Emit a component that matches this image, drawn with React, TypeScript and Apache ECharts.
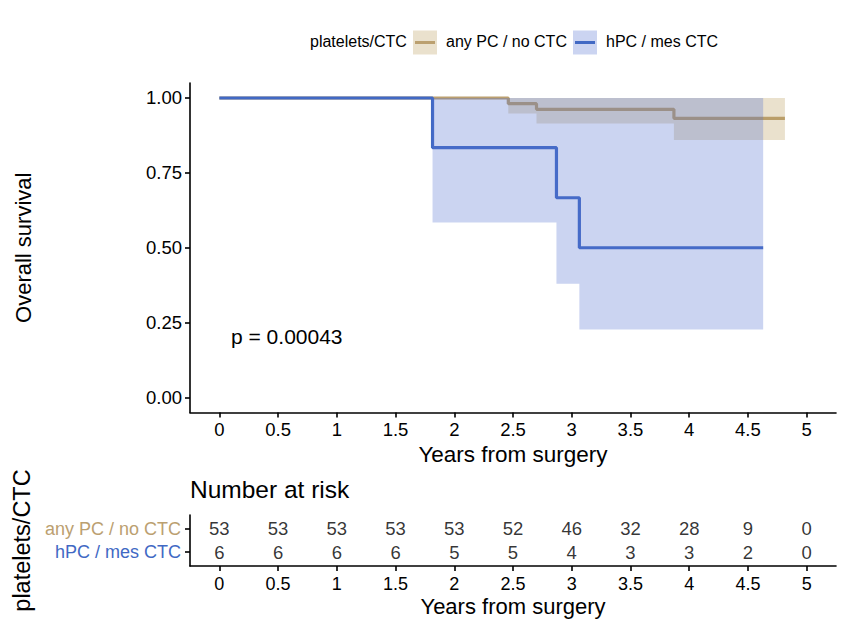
import React, { useEffect, useRef } from "react";
import * as echarts from "echarts";

const FONT = '"Liberation Sans", Arial, Helvetica, sans-serif';

const strata = ["any PC / no CTC", "hPC / mes CTC"];
const legendTitle = "platelets/CTC";
const pValueText = "p = 0.00043";

// Kaplan-Meier step curves (time, survival) and confidence band
const tanTimes = [0, 2.46, 2.7, 3.87, 4.815];
const tanSurv = [1, 0.981, 0.962, 0.932, 0.932];
const tanLower = [1, 0.948, 0.915, 0.86, 0.86];
const tanUpper = [1, 1, 1, 1, 1];

const blueTimes = [0, 1.815, 2.87, 3.065, 4.63];
const blueSurv = [1, 0.834, 0.667, 0.5, 0.5];
const blueLower = [1, 0.584, 0.38, 0.227, 0.227];
const blueUpper = [1, 1, 1, 1, 1];

const xTicks = [0, 0.5, 1, 1.5, 2, 2.5, 3, 3.5, 4, 4.5, 5];
const yTicks = [0, 0.25, 0.5, 0.75, 1];

// Number at risk table
const riskTimes = [0, 0.5, 1, 1.5, 2, 2.5, 3, 3.5, 4, 4.5, 5];
const riskTan = [53, 53, 53, 53, 53, 52, 46, 32, 28, 9, 0];
const riskBlue = [6, 6, 6, 6, 5, 5, 4, 3, 3, 2, 0];

const TAN = "#BBA070";
const BLUE = "#4169C4";
const TAN_FILL = "rgba(185,155,88,0.3)";
const BLUE_FILL = "rgba(84,112,208,0.3)";

function bandSeries(name: string, times: number[], lower: number[], upper: number[], fill: string, z: number) {
  return {
    type: "custom",
    name,
    xAxisIndex: 0,
    yAxisIndex: 0,
    z,
    silent: true,
    data: times.map((t, i) => [t, lower[i], upper[i]]),
    encode: { x: 0, y: [1, 2] },
    renderItem: (params: any, api: any) => {
      if (params.dataIndex !== 0) return null;
      const n = times.length;
      const pts: number[][] = [];
      for (let i = 0; i < n - 1; i++) {
        pts.push(api.coord([times[i], upper[i]]));
        pts.push(api.coord([times[i + 1], upper[i]]));
      }
      for (let i = n - 2; i >= 0; i--) {
        pts.push(api.coord([times[i + 1], lower[i]]));
        pts.push(api.coord([times[i], lower[i]]));
      }
      return { type: "polygon", shape: { points: pts }, style: { fill, stroke: "none" } };
    },
  };
}

function axisCommon() {
  return {
    axisLine: { show: true, onZero: false, lineStyle: { color: "#000", width: 1.6 } },
    splitLine: { show: false },
  };
}

export default function App() {
  const ref = useRef<HTMLDivElement>(null);
  useEffect(() => {
    if (!ref.current) return;
    const chart = echarts.init(ref.current, undefined, { renderer: "svg" });
    const option: any = {
      animation: false,
      textStyle: { fontFamily: FONT },
      grid: [
        { left: 190, top: 83, width: 646, height: 329.5, outerBoundsMode: "none" },
        { left: 190, top: 515, width: 646, height: 51, outerBoundsMode: "none" },
      ],
      xAxis: [
        {
          gridIndex: 0,
          type: "value",
          min: -0.25,
          max: 5.25,
          ...axisCommon(),
          axisTick: { show: true, length: 5, customValues: xTicks, lineStyle: { color: "#000", width: 1.6 } },
          axisLabel: { customValues: xTicks, color: "#000", fontSize: 18.5, margin: 7, fontFamily: FONT },
          name: "Years from surgery",
          nameLocation: "middle",
          nameGap: 28,
          nameTextStyle: { fontSize: 22.5, color: "#000", fontFamily: FONT },
        },
        {
          gridIndex: 1,
          type: "value",
          min: -0.25,
          max: 5.25,
          ...axisCommon(),
          axisTick: { show: true, length: 5, customValues: xTicks, lineStyle: { color: "#000", width: 1.6 } },
          axisLabel: { customValues: xTicks, color: "#000", fontSize: 18, margin: 9, fontFamily: FONT },
          name: "Years from surgery",
          nameLocation: "middle",
          nameGap: 29,
          nameTextStyle: { fontSize: 22, color: "#000", fontFamily: FONT },
        },
      ],
      yAxis: [
        {
          gridIndex: 0,
          type: "value",
          min: -0.05,
          max: 1.05,
          ...axisCommon(),
          axisTick: { show: true, length: 5, customValues: yTicks, lineStyle: { color: "#000", width: 1.6 } },
          axisLabel: {
            customValues: yTicks,
            color: "#000",
            fontSize: 18.5,
            margin: 8,
            fontFamily: FONT,
            formatter: (v: number) => v.toFixed(2),
          },
          name: "Overall survival",
          nameLocation: "middle",
          nameRotate: 90,
          nameGap: 156,
          nameTextStyle: { fontSize: 22, color: "#000", fontFamily: FONT },
        },
        {
          gridIndex: 1,
          type: "value",
          min: 0.4,
          max: 2.6,
          ...axisCommon(),
          axisTick: { show: true, length: 5, customValues: [1, 2], lineStyle: { color: "#000", width: 1.6 } },
          axisLabel: {
            customValues: [1, 2],
            fontSize: 18,
            margin: 9,
            fontFamily: FONT,
            formatter: (v: number) => (v === 2 ? "{tan|" + strata[0] + "}" : "{blue|" + strata[1] + "}"),
            rich: {
              tan: { color: TAN, fontSize: 18, fontFamily: FONT },
              blue: { color: BLUE, fontSize: 18, fontFamily: FONT },
            },
          },
          name: legendTitle,
          nameLocation: "middle",
          nameRotate: 90,
          nameGap: 156,
          nameTextStyle: { fontSize: 23.5, color: "#000", fontFamily: FONT },
        },
      ],
      series: [
        {
          type: "line",
          name: strata[0],
          xAxisIndex: 0,
          yAxisIndex: 0,
          step: "end",
          showSymbol: false,
          z: 2,
          lineStyle: { color: TAN, width: 3.2 },
          itemStyle: { color: TAN },
          data: tanTimes.map((t, i) => [t, tanSurv[i]]),
        },
        {
          type: "line",
          name: strata[1],
          xAxisIndex: 0,
          yAxisIndex: 0,
          step: "end",
          showSymbol: false,
          z: 2,
          lineStyle: { color: BLUE, width: 3.2 },
          itemStyle: { color: BLUE },
          data: blueTimes.map((t, i) => [t, blueSurv[i]]),
        },
        bandSeries(strata[0] + " CI", tanTimes, tanLower, tanUpper, TAN_FILL, 3),
        bandSeries(strata[1] + " CI", blueTimes, blueLower, blueUpper, BLUE_FILL, 4),
        {
          type: "scatter",
          name: strata[0] + " at risk",
          xAxisIndex: 1,
          yAxisIndex: 1,
          symbolSize: 1,
          itemStyle: { color: "transparent" },
          label: {
            show: true,
            position: "inside",
            color: "#000",
            fontSize: 18.5,
            fontFamily: FONT,
            formatter: (p: any) => String(p.value[2]),
          },
          data: riskTimes.map((t, i) => [t, 2, riskTan[i]]),
        },
        {
          type: "scatter",
          name: strata[1] + " at risk",
          xAxisIndex: 1,
          yAxisIndex: 1,
          symbolSize: 1,
          itemStyle: { color: "transparent" },
          label: {
            show: true,
            position: "inside",
            color: "#000",
            fontSize: 18.5,
            fontFamily: FONT,
            formatter: (p: any) => String(p.value[2]),
          },
          data: riskTimes.map((t, i) => [t, 1, riskBlue[i]]),
        },
      ],
      graphic: [
        {
          type: "text",
          left: 310,
          top: 33.5,
          style: { text: legendTitle, fontSize: 16, fontFamily: FONT, fill: "#000" },
        },
        { type: "rect", shape: { x: 413, y: 30.5, width: 24, height: 24 }, style: { fill: TAN_FILL } },
        { type: "line", shape: { x1: 415, y1: 42.5, x2: 435, y2: 42.5 }, style: { stroke: TAN, lineWidth: 3 } },
        {
          type: "text",
          left: 446,
          top: 33.5,
          style: { text: strata[0], fontSize: 16, fontFamily: FONT, fill: "#000" },
        },
        { type: "rect", shape: { x: 573, y: 30.5, width: 24, height: 24 }, style: { fill: BLUE_FILL } },
        { type: "line", shape: { x1: 575, y1: 42.5, x2: 595, y2: 42.5 }, style: { stroke: BLUE, lineWidth: 3 } },
        {
          type: "text",
          left: 606,
          top: 33.5,
          style: { text: strata[1], fontSize: 16, fontFamily: FONT, fill: "#000" },
        },
        {
          type: "text",
          left: 231,
          top: 326,
          style: { text: pValueText, fontSize: 21, fontFamily: FONT, fill: "#000" },
        },
        {
          type: "text",
          left: 190,
          top: 477,
          style: { text: "Number at risk", fontSize: 24.5, fontFamily: FONT, fill: "#000" },
        },
      ],
    };
    chart.setOption(option);
    return () => chart.dispose();
  }, []);
  return (
    <div
      ref={ref}
      style={{ position: "fixed", left: 0, top: 0, width: 856, height: 624, background: "#fff" }}
    />
  );
}
